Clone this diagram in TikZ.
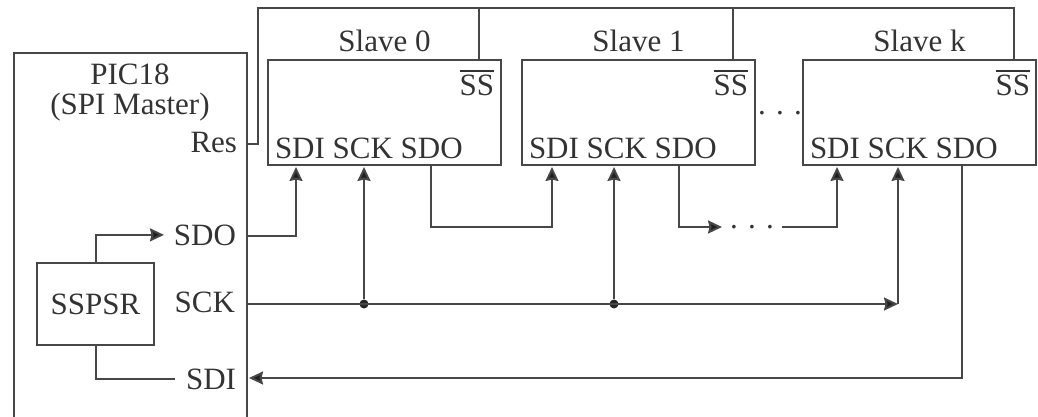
\documentclass[tikz,border=0pt]{standalone}
\usepackage{fontspec}
\setmainfont{Liberation Serif}
\usepackage{xcolor}
\usetikzlibrary{positioning,arrows.meta}

\newcommand{\barss}{\vbox{\hrule height 1.6pt \kern 3.5pt \hbox{SS}}}

\begin{document}
\begin{tikzpicture}[
  x=1pt, y=-1pt,
  font=\fontsize{31}{34}\selectfont,
  >={Stealth[length=14pt,width=13pt,inset=1.5pt,fill=black!88]},
  wire/.style={line width=2pt, draw=black!72},
  slavebox/.style={
    wire, rectangle,
    minimum width=233pt, minimum height=105pt,
    inner sep=0pt, outer sep=0pt
  },
  regbox/.style={
    wire, rectangle,
    minimum width=117pt, minimum height=82pt,
    inner sep=0pt, outer sep=0pt, text=black!80
  },
  lbl/.style={inner sep=0pt, outer sep=0pt, text=black!80},
  dotsgap/.style={inner sep=0pt, inner xsep=8pt, outer sep=0pt, text=black!80},
  junction/.style={circle, fill=black!85, inner sep=0pt, minimum size=9pt}
]
\useasboundingbox (0,0) rectangle (1038,417);

% master
\coordinate (picbl) at (14,417);
\coordinate (pictr) at (247,53);
\coordinate (picbr) at (247,417);
\draw[wire] (picbl) |- (pictr) -- (picbr);

\node[lbl, anchor=base] (pictitle) at (130,85) {PIC18};
\node[lbl, anchor=base] (picrole) at (130,114) {(SPI Master)};
\node[lbl, anchor=base east] (lres) at (237,153) {Res};
\node[lbl, anchor=base east] (lsdo) at (236,245) {SDO};
\node[lbl, anchor=base east] (lsck) at (235,312) {SCK};
\node[lbl, anchor=base east] (lsdi) at (236,389) {SDI};
\node[regbox] (ssp) at (95.5,304) {SSPSR};

\coordinate (picres) at (247,144);
\coordinate (picsdo) at (247,236);
\coordinate (picsck) at (247,304);
\coordinate (picsdi) at (247,378);

% slaves
\node[slavebox, anchor=north west] (s0) at (268,60) {};
\node[slavebox, right=21pt of s0] (s1) {};
\node[slavebox, right=48pt of s1] (sk) {};

\node[lbl, anchor=base] (s0name) at ([yshift=8pt]s0.north) {Slave 0};
\node[lbl, anchor=base] (s1name) at ([yshift=8pt]s1.north) {Slave 1};
\node[lbl, anchor=base] (skname) at ([yshift=8pt]sk.north) {Slave k};

\node[lbl, anchor=base east] (s0bar) at ([xshift=-7pt,yshift=-36pt]s0.north east) {\barss};
\node[lbl, anchor=base east] (s1bar) at ([xshift=-7pt,yshift=-36pt]s1.north east) {\barss};
\node[lbl, anchor=base east] (skbar) at ([xshift=-6pt,yshift=-36pt]sk.north east) {\barss};

\node[lbl, anchor=base west] (s0pins) at ([xshift=7pt,yshift=7pt]s0.south west) {SDI SCK SDO};
\node[lbl, anchor=base west] (s1pins) at ([xshift=7pt,yshift=7pt]s1.south west) {SDI SCK SDO};
\node[lbl, anchor=base west] (skpins) at ([xshift=7pt,yshift=7pt]sk.south west) {SDI SCK SDO};

\node[dotsgap] (gapboxes) at (780,113) {. . .};
\node[dotsgap] (gapchain) at (752,227) {. . .};

\coordinate (s0ss) at ([xshift=-22pt]s0.north east);
\coordinate (s1ss) at ([xshift=-22pt]s1.north east);
\coordinate (skss) at ([xshift=-22pt]sk.north east);
\coordinate (s0di) at ([xshift=28pt]s0.south west);
\coordinate (s0ck) at ([xshift=96pt]s0.south west);
\coordinate (s0do) at ([xshift=163pt]s0.south west);
\coordinate (s1di) at ([xshift=30pt]s1.south west);
\coordinate (s1ck) at ([xshift=92pt]s1.south west);
\coordinate (s1do) at ([xshift=157pt]s1.south west);
\coordinate (skdi) at ([xshift=34pt]sk.south west);
\coordinate (skck) at ([xshift=95pt]sk.south west);
\coordinate (skdo) at ([xshift=159pt]sk.south west);

% select bus
\coordinate (busleft) at (258,8);
\draw[wire] (picres) -| (busleft) -| (skss);
\draw[wire] (s0ss) -- (s0ss |- busleft);
\draw[wire] (s1ss) -- (s1ss |- busleft);

% data chain
\coordinate (chainy) at (431,227);
\draw[wire, ->, shorten >=2pt] (picsdo) -| (s0di);
\draw[wire, ->, shorten >=2pt] (s0do) |- (chainy) -| (s1di);
\draw[wire, ->] (s1do) |- (gapchain.west);
\draw[wire, ->, shorten >=2pt] (gapchain.east) -| (skdi);
\draw[wire, ->, shorten >=2pt] (skdo) |- (picsdi);

% clock
\node[junction] (j0) at (s0ck |- picsck) {};
\node[junction] (j1) at (s1ck |- picsck) {};
\coordinate (ckturn) at (skck |- picsck);
\draw[wire, ->] (picsck) -- (ckturn);
\draw[wire, ->, shorten >=2pt] (j0) -- (s0ck);
\draw[wire, ->, shorten >=2pt] (j1) -- (s1ck);
\draw[wire, ->, shorten >=2pt] (ckturn) -- (skck);

% inside the master
\draw[wire, ->, shorten >=10pt] (ssp.north) |- (lsdo.west);
\draw[wire, shorten >=11pt] (ssp.south) |- (lsdi.west);

\end{tikzpicture}
\end{document}
